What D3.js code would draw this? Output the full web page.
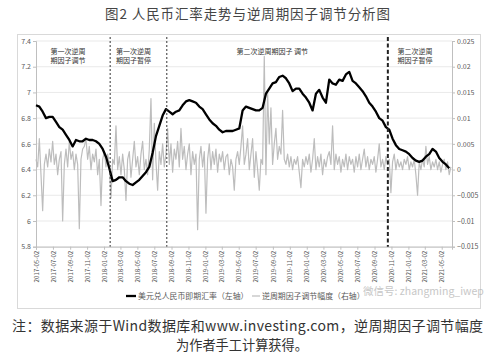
<!DOCTYPE html>
<html><head><meta charset="utf-8">
<script src="https://cdn.jsdelivr.net/npm/d3@7"></script>
<style>body{margin:0;background:#fff}svg{display:block}text{font-family:"Noto Sans CJK SC","Noto Sans",sans-serif}</style>
</head><body><svg id="c" width="500" height="357"></svg>
<script>
const title = "图2 人民币汇率走势与逆周期因子调节分析图";
const leftTicks = [7.4, 7.2, 7, 6.8, 6.6, 6.4, 6.2, 6, 5.8];
const rightTicks = [0.025, 0.02, 0.015, 0.01, 0.005, 0, -0.005, -0.01, -0.015];
const dateTicks = ["2017-05-02","2017-07-02","2017-09-02","2017-11-02","2018-01-02","2018-03-02","2018-05-02","2018-07-02","2018-09-02","2018-11-02","2019-01-02","2019-03-02","2019-05-02","2019-07-02","2019-09-02","2019-11-02","2020-01-02","2020-03-02","2020-05-02","2020-07-02","2020-09-02","2020-11-02","2021-01-02","2021-03-02","2021-05-02"];
const xDomain = ["2017-05-02", "2021-06-08"];
// USD/CNY spot rate, sampled every 12 days from 2017-05-02 (left axis)
const fxStart = "2017-05-02", fxStepDays = 12;
const fxValues = [6.90,6.89,6.85,6.80,6.81,6.81,6.77,6.73,6.71,6.67,
6.63,6.58,6.63,6.62,6.62,6.64,6.63,6.63,6.62,6.60,
6.56,6.50,6.41,6.31,6.32,6.34,6.34,6.31,6.29,6.28,
6.30,6.32,6.35,6.38,6.42,6.53,6.66,6.74,6.82,6.87,
6.85,6.83,6.85,6.86,6.90,6.93,6.94,6.93,6.92,6.89,
6.87,6.83,6.79,6.76,6.74,6.71,6.69,6.70,6.70,6.70,
6.71,6.72,6.86,6.89,6.88,6.87,6.86,6.86,6.88,6.99,
7.03,7.07,7.08,7.12,7.13,7.11,7.07,7.01,7.03,7.03,
6.99,6.96,6.92,6.86,6.99,7.02,6.96,6.92,7.10,7.07,
7.06,7.10,7.09,7.14,7.16,7.09,7.07,7.04,7.01,6.97,
6.92,6.89,6.85,6.80,6.78,6.73,6.71,6.64,6.59,6.56,
6.55,6.54,6.52,6.49,6.47,6.46,6.47,6.50,6.52,6.56,
6.54,6.49,6.46,6.44,6.41];
// counter-cyclical factor adjustment, sampled every 6 days from 2017-05-02 (right axis)
const cfStart = "2017-05-02", cfStepDays = 6;
const cfValues = [0.002,0.0005,0.006,-0.001,-0.008,0.001,0.003,0.0005,0.004,0.0015,
0.0055,0.001,0.003,-0.001,0.002,0.0035,-0.010,0.001,0.004,0.0005,
0.0055,0.002,0.0035,0.0,0.003,0.001,-0.0115,0.002,0.004,0.0045,
0.006,0.002,0.0045,0.0,0.003,0.0015,0.004,-0.001,0.002,-0.007,
0.002,0.0035,0.0005,0.003,0.001,-0.0055,0.002,0.001,0.0085,0.0,
0.0025,-0.001,0.003,0.0,-0.006,0.002,0.0035,-0.0015,0.002,0.0055,
0.0005,0.0025,-0.001,0.003,0.0055,0.0,0.002,-0.001,0.004,0.0138,
-0.002,0.009,0.0015,-0.004,0.0035,0.001,0.005,0.0005,0.003,0.008,
0.001,0.005,-0.0005,0.004,0.002,0.0055,0.0005,0.008,0.002,0.0045,
0.0,0.003,0.005,-0.001,0.0035,0.001,0.003,-0.0117,0.002,0.0045,
0.0005,0.0035,-0.0085,0.002,0.005,0.0,0.0035,0.001,0.004,-0.0005,
0.003,0.0015,0.0035,0.0,0.0025,0.003,-0.001,0.002,0.0005,-0.004,
0.002,0.0035,0.001,0.0045,0.0085,0.001,0.003,0.006,0.0,0.003,
0.006,-0.0015,0.0035,0.0,-0.004,0.002,0.001,0.022,-0.001,0.015,
0.005,0.012,0.001,0.005,0.008,0.002,0.0045,0.003,0.0115,0.002,
0.001,0.003,0.0005,0.0025,0.0,0.002,0.001,0.0025,-0.0005,-0.0035,
0.002,0.0005,0.0025,0.001,0.003,-0.0005,0.002,0.006,0.0,0.0025,
0.0005,0.003,-0.001,0.002,0.0005,0.0025,0.0035,0.001,0.0085,0.0,
0.003,0.001,0.0025,-0.0005,0.002,0.0005,0.003,0.0,0.0025,0.001,
0.002,-0.0005,0.0025,0.0005,0.003,0.0,0.002,0.004,0.0005,0.0025,
0.0,0.002,0.001,0.0025,-0.0005,0.002,0.005,0.0005,0.002,0.0,
0.0025,0.001,0.002,-0.0045,0.0015,0.003,0.0,0.002,0.0005,0.0015,
0.0,0.002,0.001,0.0025,0.0,0.0015,0.0005,0.002,-0.001,-0.005,
0.0015,0.0,0.002,0.0005,0.0045,0.001,0.0025,0.0,0.0015,0.0005,
0.002,0.0,0.0015,-0.0005,0.001,0.002,0.0,0.0015,-0.001,0.0005];
const phaseDates = ["2018-01-24", "2018-08-16", "2020-10-20"];
const phaseLabels = [["第一次逆周","期因子调节"],["第一次逆周","期因子暂停"],["第二次逆周期因子 调节"],["第二次逆周","期因子暂停"]];
const seriesNames = ["美元兑人民币即期汇率（左轴）", "逆周期因子调节幅度（右轴）"];
const noteLines = ["注：数据来源于Wind数据库和www.investing.com，逆周期因子调节幅度", "为作者手工计算获得。"];
const watermark = "微信号: zhangming_iwep";

const parse = d3.utcParse("%Y-%m-%d");
const svg = d3.select("#c");
const L = 36, R = 452, T = 41, B = 246.7;

svg.append("text").attr("x", 105).attr("y", 19)
  .attr("font-size", 13.5).attr("fill", "#444").attr("textLength", 285).attr("lengthAdjust", "spacing").text(title);

svg.append("rect").attr("x", 17.5).attr("y", 34.5).attr("width", 463).attr("height", 274)
  .attr("fill", "#fff").attr("stroke", "#d9d9d9");

const x = d3.scaleUtc().domain(xDomain.map(parse)).range([L, R]);
const yL = d3.scaleLinear().domain([5.8, 7.4]).range([B, T]);
const yR = d3.scaleLinear().domain([-0.015, 0.025]).range([B, T]);

// gridlines
svg.append("g").selectAll("line").data(leftTicks).join("line")
  .attr("x1", L).attr("x2", R).attr("y1", d => yL(d)).attr("y2", d => yL(d))
  .attr("stroke", "#e3e3e3").attr("stroke-width", 0.8);

const fmt = d3.format("~g");
const axL = svg.append("g").attr("transform", `translate(${L},0)`)
  .call(d3.axisLeft(yL).tickValues(leftTicks).tickFormat(d => fmt(d)).tickSize(3).tickPadding(2));
const axR = svg.append("g").attr("transform", `translate(${R},0)`)
  .call(d3.axisRight(yR).tickValues(rightTicks).tickFormat(d => fmt(d)).tickSize(3).tickPadding(2));
const axB = svg.append("g").attr("transform", `translate(0,${B})`)
  .call(d3.axisBottom(x).tickValues(dateTicks.map(parse)).tickFormat(d3.utcFormat("%Y-%m-%d")).tickSize(3));
[axL, axR, axB].forEach(a => {
  a.select(".domain").attr("stroke", "#bfbfbf");
  a.selectAll(".tick line").attr("stroke", "#bfbfbf");
  a.selectAll("text").attr("fill", "#595959").attr("font-family", '"Noto Sans CJK SC","Noto Sans",sans-serif');
});
axL.selectAll("text").attr("font-size", 7);
axR.selectAll("text").attr("font-size", 7);
axB.selectAll("text").attr("font-size", 6.2)
  .attr("transform", "rotate(-90)").attr("text-anchor", "end")
  .attr("x", -4).attr("y", 0).attr("dy", "0.35em");

// counter-cyclical factor (gray)
const cf0 = parse(cfStart);
const cfData = cfValues.map((v, i) => ({ d: d3.utcDay.offset(cf0, i * cfStepDays), v }));
svg.append("path").datum(cfData)
  .attr("fill", "none").attr("stroke", "#bdbdbd").attr("stroke-width", 1.2).attr("stroke-linejoin", "round")
  .attr("d", d3.line().x(p => x(p.d)).y(p => yR(p.v)));

// FX rate (black)
const fx0 = parse(fxStart);
const fxData = fxValues.map((v, i) => ({ d: d3.utcDay.offset(fx0, i * fxStepDays), v }));
svg.append("path").datum(fxData)
  .attr("fill", "none").attr("stroke", "#000").attr("stroke-width", 2.3).attr("stroke-linejoin", "round")
  .attr("d", d3.line().x(p => x(p.d)).y(p => yL(p.v)));

// phase dividers
const pd = phaseDates.map(parse);
pd.forEach((d, i) => {
  const last = i === pd.length - 1;
  svg.append("line").attr("x1", x(d)).attr("x2", x(d)).attr("y1", T - 4).attr("y2", B)
    .attr("stroke", last ? "#222" : "#333").attr("stroke-width", last ? 2 : 1)
    .attr("stroke-dasharray", last ? "4,2.5" : "2,2");
});
const bounds = [L, ...pd.map(d => x(d)), R];
phaseLabels.forEach((lines, i) => {
  const cx = (bounds[i] + bounds[i + 1]) / 2 - 5;
  lines.forEach((t, j) => {
    svg.append("text").attr("x", cx).attr("y", 54 + j * 9).attr("text-anchor", "middle")
      .attr("font-size", 7).attr("fill", "#333").text(t);
  });
});

// legend
const lg = svg.append("g");
lg.append("line").attr("x1", 126).attr("x2", 136).attr("y1", 296).attr("y2", 296).attr("stroke", "#000").attr("stroke-width", 2.3);
lg.append("text").attr("x", 138).attr("y", 298.8).attr("font-size", 7.9).attr("fill", "#595959").text(seriesNames[0]);
lg.append("line").attr("x1", 252).attr("x2", 260).attr("y1", 296).attr("y2", 296).attr("stroke", "#bdbdbd").attr("stroke-width", 1.2);
lg.append("text").attr("x", 262).attr("y", 298.8).attr("font-size", 7.9).attr("fill", "#595959").text(seriesNames[1]);

// watermark
svg.append("text").attr("x", 363).attr("y", 295).attr("font-size", 10.5).attr("fill", "#b0b0b0")
  .attr("opacity", 0.7).text(watermark);

// note
svg.append("text").attr("x", 12).attr("y", 331).attr("font-size", 14).attr("fill", "#333")
  .attr("textLength", 471).attr("lengthAdjust", "spacing").text(noteLines[0]);
svg.append("text").attr("x", 242).attr("y", 350).attr("text-anchor", "middle").attr("font-size", 13.2)
  .attr("fill", "#333").text(noteLines[1]);
</script></body></html>
